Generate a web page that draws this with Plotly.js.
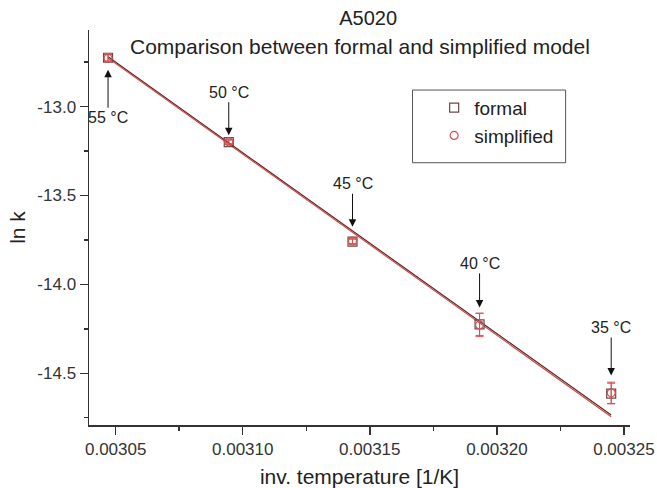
<!DOCTYPE html>
<html>
<head>
<meta charset="utf-8">
<script src="https://cdn.plot.ly/plotly-3.0.1.min.js"></script>
<style>html,body{margin:0;padding:0;background:#fff;}#chart{width:657px;height:488px;}</style>
</head>
<body>
<div id="chart"></div>
<script>
// ---- data ----
const tempLabels = ['55 °C', '50 °C', '45 °C', '40 °C', '35 °C'];
const invTemp = [0.003047, 0.0030945, 0.0031432, 0.0031932, 0.0032450];
const lnkFormal = [-12.725, -13.200, -13.760, -14.225, -14.614];
const lnkSimplified = [-12.728, -13.198, -13.757, -14.228, -14.610];
const errFormal = [0.018, 0.012, 0.014, 0.062, 0.058];
const errSimplified = [0.020, 0.012, 0.014, 0.066, 0.060];
const fitX = [0.003047, 0.003245];
const fitFormal = [-12.720, -14.735];
const fitSimplified = [-12.726, -14.745];
const xTickVals = [0.00305, 0.00310, 0.00315, 0.00320, 0.00325];
const xTickLabels = ['0.00305', '0.00310', '0.00315', '0.00320', '0.00325'];
const yTickVals = [-13.0, -13.5, -14.0, -14.5];
const yTickLabels = ['-13.0', '-13.5', '-14.0', '-14.5'];

// ---- styling ----
const FONT = 'Liberation Sans, Arial, sans-serif';
const RED = '#d65050';
const annOffsets = [60, -50, -58, -61, -66];
const annStandoff = [12, 7, 15, 17, 18];

const traces = [
  {x: fitX, y: fitFormal, mode: 'lines', line: {color: '#5a2626', width: 1.2}, showlegend: false, hoverinfo: 'skip'},
  {x: fitX, y: fitSimplified, mode: 'lines', line: {color: '#cf4a4a', width: 1.2}, showlegend: false, hoverinfo: 'skip'},
  {x: invTemp, y: lnkFormal, name: 'formal', mode: 'markers',
   marker: {symbol: 'square-open', size: 9, color: '#6a4a4a', line: {width: 1.2}},
   error_y: {type: 'data', array: errFormal, visible: true, color: RED, thickness: 1, width: 4}},
  {x: invTemp, y: lnkSimplified, name: 'simplified', mode: 'markers',
   marker: {symbol: 'circle-open', size: 8, color: RED, line: {width: 1.2}},
   error_y: {type: 'data', array: errSimplified, visible: true, color: RED, thickness: 1, width: 4}}
];

const annotations = tempLabels.map((t, i) => ({
  x: invTemp[i], y: lnkFormal[i], xref: 'x', yref: 'y',
  text: t, showarrow: true, arrowhead: 2, arrowsize: 1.5, arrowwidth: 1, arrowcolor: '#111',
  ax: 0, ay: annOffsets[i], standoff: annStandoff[i],
  font: {family: FONT, size: 16, color: '#222'}
}));
annotations.push({
  text: 'Comparison between formal and simplified model', xref: 'paper', yref: 'paper',
  x: 0.5, y: 0.957, xanchor: 'center', yanchor: 'middle', showarrow: false,
  font: {family: FONT, size: 21, color: '#222'}
});

const layout = {
  width: 657, height: 488,
  margin: {l: 89, r: 27, t: 30, b: 63},
  paper_bgcolor: '#fff', plot_bgcolor: '#fff',
  font: {family: FONT, color: '#333'},
  title: {text: 'A5020', font: {family: FONT, size: 20, color: '#222'},
          xref: 'paper', x: 0.516, xanchor: 'center', yref: 'container', y: 0.963, yanchor: 'middle'},
  xaxis: {
    range: [0.0030395, 0.0032524], tickmode: 'array', tickvals: xTickVals, ticktext: xTickLabels,
    ticks: 'outside', ticklen: 8, tickwidth: 1.5, tickcolor: '#333',
    showline: true, linecolor: '#333', linewidth: 1.5, showgrid: false, zeroline: false,
    tickfont: {family: FONT, size: 17, color: '#333'},
    minor: {ticks: 'outside', ticklen: 4, tickwidth: 1.5, tickcolor: '#333', dtick: 0.000025, tick0: 0.00305, showgrid: false},
    title: {text: 'inv. temperature [1/K]', font: {family: FONT, size: 21, color: '#222'}, standoff: 12}
  },
  yaxis: {
    range: [-14.791, -12.569], tickmode: 'array', tickvals: yTickVals, ticktext: yTickLabels,
    ticks: 'outside', ticklen: 8, tickwidth: 1.5, tickcolor: '#333',
    showline: true, linecolor: '#333', linewidth: 1.5, showgrid: false, zeroline: false,
    tickfont: {family: FONT, size: 17, color: '#333'},
    minor: {ticks: 'outside', ticklen: 4, tickwidth: 1.5, tickcolor: '#333', dtick: 0.25, tick0: -13, showgrid: false},
    title: {text: 'ln k', font: {family: FONT, size: 21, color: '#222'}, standoff: 6}
  },
  legend: {x: 0.638, y: 0.851, xanchor: 'left', yanchor: 'top', bgcolor: 'rgba(0,0,0,0)',
           borderwidth: 0, font: {family: FONT, size: 19, color: '#222'}},
  shapes: [{type: 'rect', xref: 'paper', yref: 'paper', x0: 0.598, x1: 0.881, y0: 0.664, y1: 0.848,
            line: {color: '#555', width: 1}, fillcolor: 'rgba(0,0,0,0)'}],
  annotations: annotations,
  showlegend: true
};

Plotly.newPlot('chart', traces, layout, {displayModeBar: false, staticPlot: true});
</script>
</body>
</html>
